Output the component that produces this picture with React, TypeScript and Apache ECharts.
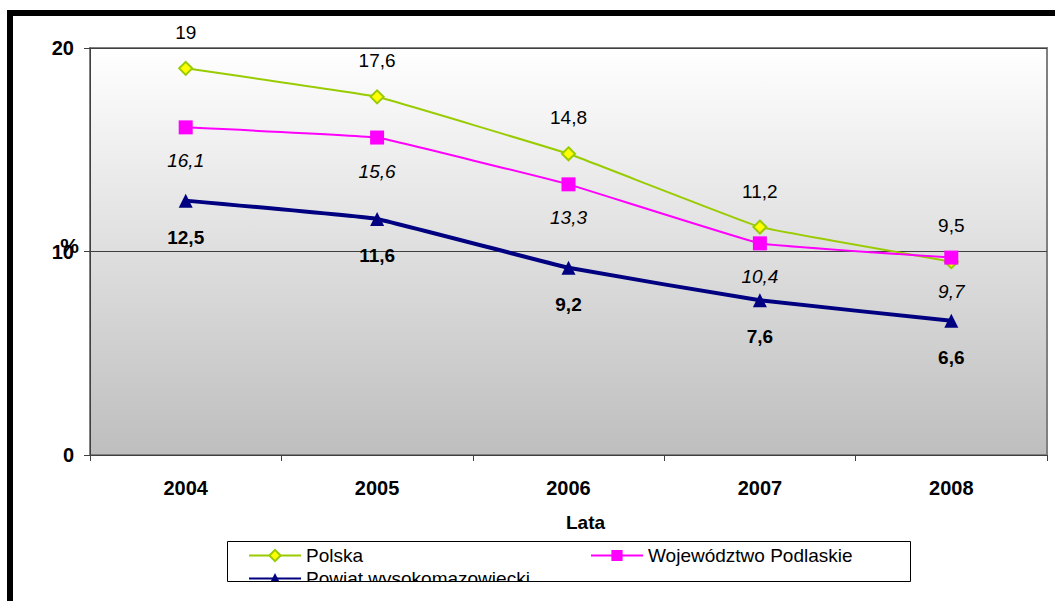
import React, { useEffect, useRef } from 'react';
import * as echarts from 'echarts';

const years = ['2004', '2005', '2006', '2007', '2008'];
const polska = [19, 17.6, 14.8, 11.2, 9.5];
const podlaskie = [16.1, 15.6, 13.3, 10.4, 9.7];
const powiat = [12.5, 11.6, 9.2, 7.6, 6.6];
const seriesNames = ['Polska', 'Województwo Podlaskie', 'Powiat wysokomazowiecki'];

const FONT = '"Liberation Sans", Arial, sans-serif';
const fmt = (p: any) => String(p.value).replace('.', ',');

export default function App() {
  const ref = useRef<HTMLDivElement>(null);
  useEffect(() => {
    if (!ref.current) return;
    const chart = echarts.init(ref.current, null, { renderer: 'svg' });
    const legendText = { fontSize: 19, color: '#000', fontFamily: FONT };
    chart.setOption({
      animation: false,
      backgroundColor: '#ffffff',
      textStyle: { fontFamily: FONT },
      grid: {
        left: 90,
        top: 48,
        right: 8,
        bottom: 146,
        show: true,
        borderColor: '#808080',
        borderWidth: 2,
        backgroundColor: new echarts.graphic.LinearGradient(0, 0, 0, 1, [
          { offset: 0, color: '#ffffff' },
          { offset: 1, color: '#bebebe' },
        ]),
      },
      legend: [
        {
          data: [seriesNames[0]],
          left: 248,
          top: 546,
          padding: 0,
          itemWidth: 52,
          itemHeight: 14,
          textStyle: legendText,
        },
        {
          data: [seriesNames[1]],
          left: 590,
          top: 546,
          padding: 0,
          itemWidth: 52,
          itemHeight: 14,
          textStyle: legendText,
        },
        {
          data: [seriesNames[2]],
          left: 248,
          top: 569,
          padding: 0,
          itemWidth: 52,
          itemHeight: 14,
          textStyle: legendText,
        },
      ],
      xAxis: {
        type: 'category',
        data: years,
        boundaryGap: true,
        name: 'Lata',
        nameLocation: 'middle',
        nameGap: 58,
        nameTextStyle: { fontSize: 19, fontWeight: 'bold', color: '#000', fontFamily: FONT, padding: [0, 0, 0, 34] },
        axisLine: { show: true, lineStyle: { color: '#404040', width: 1 } },
        axisTick: { show: true, length: 6, lineStyle: { color: '#404040' } },
        axisLabel: { margin: 23, fontSize: 20, fontWeight: 'bold', color: '#000', fontFamily: FONT },
        splitLine: { show: false },
      },
      yAxis: {
        type: 'value',
        min: 0,
        max: 20,
        interval: 10,
        name: '%',
        nameLocation: 'middle',
        nameRotate: 0,
        nameGap: 11,
        nameMoveOverlap: false,
        nameTextStyle: {
          fontSize: 21,
          fontWeight: 'bold',
          color: '#000',
          fontFamily: FONT,
          verticalAlign: 'bottom',
          lineHeight: 12,
        },
        axisLine: { show: true, lineStyle: { color: '#404040', width: 1 } },
        axisTick: { show: true, length: 6, lineStyle: { color: '#404040' } },
        axisLabel: { margin: 16, fontSize: 20, fontWeight: 'bold', color: '#000', fontFamily: FONT },
        splitLine: { show: true, lineStyle: { color: '#404040', width: 1 } },
      },
      series: [
        {
          name: seriesNames[0],
          type: 'line',
          data: polska,
          smooth: 0.06,
          symbol: 'diamond',
          symbolSize: 13,
          lineStyle: { color: '#99CC00', width: 2 },
          itemStyle: { color: '#FFFF00', borderColor: '#99CC00', borderWidth: 2 },
          label: {
            show: true,
            position: 'top',
            distance: 19,
            formatter: fmt,
            fontSize: 19,
            color: '#000',
            fontFamily: FONT,
          },
        },
        {
          name: seriesNames[1],
          type: 'line',
          data: podlaskie,
          smooth: 0.06,
          symbol: 'rect',
          symbolSize: 14,
          lineStyle: { color: '#FF00FF', width: 2 },
          itemStyle: { color: '#FF00FF', borderColor: '#FF00FF', borderWidth: 0 },
          label: {
            show: true,
            position: 'bottom',
            distance: 17,
            formatter: fmt,
            fontSize: 19,
            fontStyle: 'italic',
            color: '#000',
            fontFamily: FONT,
          },
        },
        {
          name: seriesNames[2],
          type: 'line',
          data: powiat,
          smooth: 0.06,
          symbol: 'triangle',
          symbolSize: 14,
          lineStyle: { color: '#000080', width: 4 },
          itemStyle: { color: '#000080', borderColor: '#000080', borderWidth: 0 },
          label: {
            show: true,
            position: 'bottom',
            distance: 20,
            formatter: fmt,
            fontSize: 19,
            fontWeight: 'bold',
            color: '#000',
            fontFamily: FONT,
          },
        },
      ],
      graphic: [
        {
          type: 'rect',
          z: 100,
          shape: { x: 220, y: 582, width: 700, height: 30 },
          style: { fill: '#ffffff' },
        },
        {
          type: 'rect',
          z: 101,
          shape: { x: 227.5, y: 541.5, width: 683, height: 40 },
          style: { fill: 'none', stroke: '#000', lineWidth: 1 },
        },
        {
          type: 'rect',
          z: 102,
          shape: { x: 10, y: 13, width: 1200, height: 800 },
          style: { fill: 'none', stroke: '#000', lineWidth: 6 },
        },
      ],
    });
    return () => chart.dispose();
  }, []);
  return (
    <div
      ref={ref}
      style={{ position: 'fixed', left: 0, top: 0, width: 1055, height: 601 }}
    />
  );
}
